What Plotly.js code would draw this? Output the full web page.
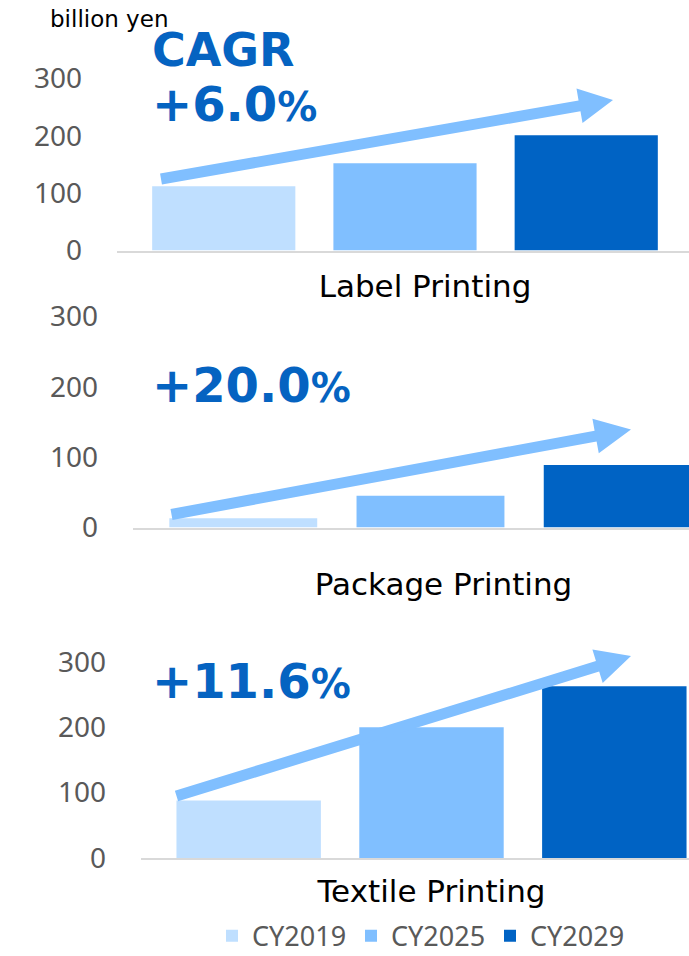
<!DOCTYPE html>
<html>
<head>
<meta charset="utf-8">
<script src="https://cdn.plot.ly/plotly-3.0.1.min.js"></script>
<style>html,body{margin:0;padding:0;background:#fff;}#chart{width:689px;height:956px;}</style>
</head>
<body>
<div id="chart"></div>
<script>
// ---- data ----
const years = ["CY2019", "CY2025", "CY2029"];
const labelCategory = ["Label Printing"];
const packageCategory = ["Package Printing"];
const textileCategory = ["Textile Printing"];
const labelValues = [112, 152, 201];
const packageValues = [13, 45, 89];
const textileValues = [88, 200, 263];
const cagrLabels = ["+6.0", "+20.0", "+11.6"];
const yTicks = [0, 100, 200, 300];
const unitLabel = "billion yen";
const cagrTitle = "CAGR";

// ---- style ----
const colors = ["#BFDFFF", "#80BFFF", "#0063C4"];
const textBlue = "#0563C1";
const W = 689, H = 956;
const px = x => x / W;
const py = y => 1 - y / H;

const panels = [
  {cat: labelCategory, vals: labelValues, xa: "x", ya: "y"},
  {cat: packageCategory, vals: packageValues, xa: "x2", ya: "y2"},
  {cat: textileCategory, vals: textileValues, xa: "x3", ya: "y3"}
];

const traces = [];
panels.forEach((p, pi) => {
  years.forEach((yr, i) => {
    traces.push({
      type: "bar",
      name: yr,
      x: p.cat,
      y: [p.vals[i]],
      xaxis: p.xa,
      yaxis: p.ya,
      marker: {color: colors[i]},
      legendgroup: yr,
      showlegend: pi === 0,
      hoverinfo: "skip"
    });
  });
});

// arrows (decorative)
function arrowPath(S, T, w, L, h) {
  const dx = T[0] - S[0], dy = T[1] - S[1];
  const len = Math.hypot(dx, dy);
  const ux = dx / len, uy = dy / len;
  const nx = -uy, ny = ux;
  const B = [T[0] - L * ux, T[1] - L * uy];
  const pts = [
    [S[0] + nx * w / 2, S[1] + ny * w / 2],
    [B[0] + nx * w / 2, B[1] + ny * w / 2],
    [B[0] + nx * h, B[1] + ny * h],
    T,
    [B[0] - nx * h, B[1] - ny * h],
    [B[0] - nx * w / 2, B[1] - ny * w / 2],
    [S[0] - nx * w / 2, S[1] - ny * w / 2]
  ];
  return "M" + pts.map(p => px(p[0]).toFixed(5) + "," + py(p[1]).toFixed(5)).join(" L") + " Z";
}
const arrowSpecs = [
  {S: [161, 179], T: [613, 100], L: 34},
  {S: [171.5, 514.5], T: [631, 429.5], L: 36},
  {S: [176.5, 796], T: [631, 656], L: 35}
];
const shapes = arrowSpecs.map(a => ({
  type: "path", xref: "paper", yref: "paper",
  path: arrowPath(a.S, a.T, 11, a.L, 17.5),
  fillcolor: "#80BFFF", line: {width: 0}, layer: "above"
}));

const xCommon = {
  type: "category", showgrid: false, zeroline: false, showline: true,
  linecolor: "#D9D9D9", linewidth: 2, ticks: "", fixedrange: true,
  tickfont: {family: "DejaVu Sans", size: 31, color: "#000000"}
};
const yCommon = {
  range: [0, 300], tickvals: yTicks, showgrid: false, zeroline: false,
  showline: false, ticks: "", fixedrange: true, ticklabelstandoff: 34,
  tickfont: {family: "Noto Sans", size: 28, color: "#595959"}
};

const pctText = (label) => "<b>" + label + "<span style='font-size:40px'>%</span></b>";
const bigFont = {family: "DejaVu Sans", size: 48, color: textBlue};

const annotations = [
  {text: unitLabel, xref: "paper", yref: "paper", x: px(48), y: py(19), xanchor: "left", yanchor: "middle",
   showarrow: false, font: {family: "DejaVu Sans", size: 23, color: "#000000"}},
  {text: "<b>" + cagrTitle + "</b>", xref: "paper", yref: "paper", x: px(150), y: py(50), xanchor: "left", yanchor: "middle",
   showarrow: false, font: {family: "DejaVu Sans", size: 46, color: textBlue}},
  {text: pctText(cagrLabels[0]), xref: "paper", yref: "paper", x: px(150), y: py(104), xanchor: "left", yanchor: "middle",
   showarrow: false, font: bigFont},
  {text: pctText(cagrLabels[1]), xref: "paper", yref: "paper", x: px(150), y: py(385), xanchor: "left", yanchor: "middle",
   showarrow: false, font: bigFont},
  {text: pctText(cagrLabels[2]), xref: "paper", yref: "paper", x: px(150), y: py(681), xanchor: "left", yanchor: "middle",
   showarrow: false, font: bigFont}
];

const layout = {
  width: W, height: H,
  margin: {l: 0, r: 0, t: 0, b: 0, autoexpand: false},
  paper_bgcolor: "#ffffff", plot_bgcolor: "rgba(0,0,0,0)",
  barmode: "group", bargap: 0.056, bargroupgap: 0.21,
  showlegend: true,
  legend: {orientation: "h", x: px(212), y: -0.005, xanchor: "left", yanchor: "bottom",
           font: {family: "Noto Sans", size: 27, color: "#595959"}, traceorder: "normal",
           entrywidth: 94, bgcolor: "rgba(0,0,0,0)"},
  xaxis: Object.assign({}, xCommon, {domain: [px(117), 1], range: [-0.5, 0.4931], anchor: "y",
          ticklabelshift: 20, ticklabelstandoff: 7}),
  yaxis: Object.assign({}, yCommon, {domain: [py(250.5), py(78.5)], anchor: "x"}),
  xaxis2: Object.assign({}, xCommon, {domain: [px(133), 1], range: [-0.5, 0.4345], anchor: "y2",
          ticklabelshift: 13, ticklabelstandoff: 28}),
  yaxis2: Object.assign({}, yCommon, {domain: [py(527.5), py(316.5)], anchor: "x2"}),
  xaxis3: Object.assign({}, xCommon, {domain: [px(141), 1], range: [-0.5, 0.4432], anchor: "y3",
          ticklabelshift: 0, ticklabelstandoff: 5}),
  yaxis3: Object.assign({}, yCommon, {domain: [py(858), py(662)], anchor: "x3"}),
  shapes: shapes,
  annotations: annotations
};

Plotly.newPlot("chart", traces, layout, {displayModeBar: false, staticPlot: true});
</script>
</body>
</html>
